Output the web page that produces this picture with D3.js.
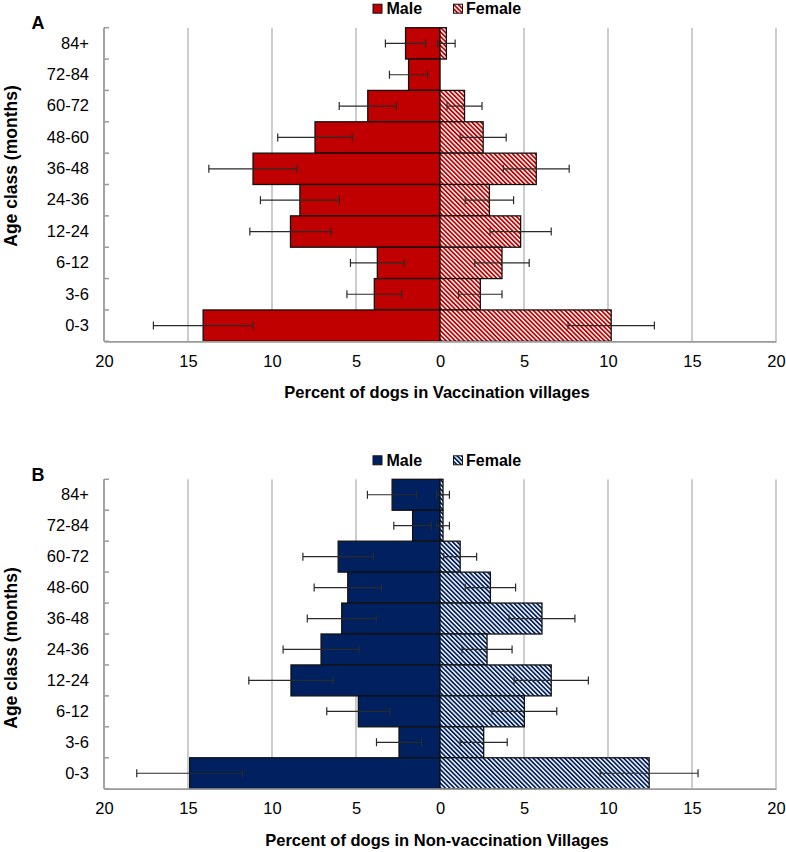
<!DOCTYPE html>
<html><head><meta charset="utf-8">
<script src="https://cdn.jsdelivr.net/npm/d3@7"></script>
<style>
html,body{margin:0;padding:0;background:#fff;}
svg{display:block;font-family:"Liberation Sans",Arial,sans-serif;}
</style></head>
<body>
<svg id="chart" width="786" height="852"></svg>
<script>
// Age classes, top to bottom
const categories = ["84+","72-84","60-72","48-60","36-48","24-36","12-24","6-12","3-6","0-3"];
const xTicks = [-20,-15,-10,-5,0,5,10,15,20];
const seriesNames = ["Male","Female"];

// Panel A: Vaccination villages
const vaccMale      = [2.05, 1.87, 4.30, 7.44, 11.13, 8.34, 8.90, 3.73, 3.91, 14.10];
const vaccMaleErr   = [1.20, 1.14, 1.70, 2.22, 2.63, 2.35, 2.42, 1.60, 1.63, 2.96];
const vaccFemale    = [0.38, 0.00, 1.46, 2.57, 5.73, 2.94, 4.80, 3.69, 2.40, 10.19];
const vaccFemaleErr = [0.52, 0.00, 1.04, 1.37, 1.96, 1.44, 1.82, 1.62, 1.29, 2.57];

// Panel B: Non-vaccination villages
const nonVaccMale      = [2.85, 1.63, 6.06, 5.49, 5.85, 7.08, 8.87, 4.86, 2.44, 14.90];
const nonVaccMaleErr   = [1.47, 1.12, 2.10, 2.00, 2.05, 2.26, 2.51, 1.88, 1.34, 3.15];
const nonVaccFemale    = [0.18, 0.18, 1.20, 3.00, 6.07, 2.80, 6.62, 5.02, 2.60, 12.45];
const nonVaccFemaleErr = [0.38, 0.38, 0.98, 1.50, 1.96, 1.49, 2.21, 1.93, 1.40, 2.91];

const svg = d3.select("#chart");
const defs = svg.append("defs");

function hatch(id, color){
  const p = defs.append("pattern").attr("id", id)
    .attr("patternUnits","userSpaceOnUse").attr("width",3.2).attr("height",10)
    .attr("patternTransform","rotate(-45)");
  p.append("rect").attr("width",3.2).attr("height",10).attr("fill","#fff");
  p.append("rect").attr("width",1.75).attr("height",10).attr("fill",color);
}
hatch("hatchRed","#C00000");
hatch("hatchBlue","#002060");

const x = d3.scaleLinear().domain([-20,20]).range([104,776]);

function panel(cfg){
  const g = svg.append("g");
  const y = d3.scaleBand().domain(categories).range([cfg.top, cfg.bottom]).padding(0);

  // gridlines
  g.append("g").selectAll("line").data(xTicks.filter(d=>d!==-20)).join("line")
    .attr("x1",d=>x(d)).attr("x2",d=>x(d))
    .attr("y1",cfg.top).attr("y2",cfg.bottom)
    .attr("stroke","#ababab").attr("stroke-width",1.2);

  const rows = categories.map((c,i)=>({c, m:cfg.male[i], me:cfg.maleErr[i], f:cfg.female[i], fe:cfg.femaleErr[i]}));

  // male bars
  g.append("g").selectAll("rect").data(rows).join("rect")
    .attr("x",d=>x(-d.m)).attr("width",d=>x(0)-x(-d.m))
    .attr("y",d=>y(d.c)).attr("height",y.bandwidth())
    .attr("fill",cfg.color).attr("stroke","#111").attr("stroke-width",1.3);
  // female bars
  g.append("g").selectAll("rect").data(rows.filter(d=>d.f>0)).join("rect")
    .attr("x",x(0)).attr("width",d=>x(d.f)-x(0))
    .attr("y",d=>y(d.c)).attr("height",y.bandwidth())
    .attr("fill",`url(#${cfg.hatch})`).attr("stroke","#111").attr("stroke-width",1.3);

  // error bars
  const eb = [];
  rows.forEach(d=>{
    if(d.m>0) eb.push({c:d.c, lo:-(d.m+d.me), hi:-(d.m-d.me)});
    if(d.f>0) eb.push({c:d.c, lo:d.f-d.fe, hi:d.f+d.fe});
  });
  const ebg = g.append("g").attr("stroke","#2a2a2a").attr("stroke-width",1.2);
  eb.forEach(e=>{
    const cy = y(e.c)+y.bandwidth()/2;
    ebg.append("line").attr("x1",x(e.lo)).attr("x2",x(e.hi)).attr("y1",cy).attr("y2",cy);
    ebg.append("line").attr("x1",x(e.lo)).attr("x2",x(e.lo)).attr("y1",cy-4).attr("y2",cy+4);
    ebg.append("line").attr("x1",x(e.hi)).attr("x2",x(e.hi)).attr("y1",cy-4).attr("y2",cy+4);
  });

  // y axis
  const yax = g.append("g").attr("transform",`translate(${x(-20)},0)`)
    .call(d3.axisLeft(y).tickSize(0).tickPadding(15));
  yax.select(".domain").remove();
  yax.selectAll("text").attr("font-size",16.5).attr("fill","#000")
    .attr("font-family","Liberation Sans, Arial, sans-serif");
  const bounds = categories.map(c=>y(c)).concat([cfg.bottom]);
  g.append("g").selectAll("line").data(bounds).join("line")
    .attr("x1",x(-20)).attr("x2",x(-20)+5).attr("y1",d=>d).attr("y2",d=>d)
    .attr("stroke","#9a9a9a").attr("stroke-width",1.5);
  g.append("line").attr("x1",x(-20)).attr("x2",x(-20)).attr("y1",cfg.top).attr("y2",cfg.bottom)
    .attr("stroke","#9a9a9a").attr("stroke-width",1.8);

  // x axis
  const xax = g.append("g").attr("transform",`translate(0,${cfg.bottom})`)
    .call(d3.axisBottom(x).tickValues(xTicks).tickSize(0).tickPadding(14).tickFormat(d=>Math.abs(d)));
  xax.select(".domain").attr("stroke","#9a9a9a").attr("stroke-width",1.8);
  xax.selectAll("text").attr("font-size",16.5).attr("fill","#000")
    .attr("font-family","Liberation Sans, Arial, sans-serif");

  // axis titles
  g.append("text").attr("x",437).attr("y",cfg.bottom+57).attr("text-anchor","middle")
    .attr("font-size",16.5).attr("font-weight","bold").text(cfg.xTitle);
  g.append("text").attr("transform",`translate(17,${cfg.yTitleCenter}) rotate(-90)`)
    .attr("text-anchor","middle").attr("font-size",17.5).attr("font-weight","bold")
    .text("Age class (months)");

  // panel letter
  g.append("text").attr("x",31.5).attr("y",cfg.top+1.5).attr("font-size",18).attr("font-weight","bold")
    .text(cfg.letter);

  // legend
  const ly = cfg.top - 23.5;
  const leg = g.append("g");
  leg.append("rect").attr("x",373).attr("y",ly).attr("width",9).attr("height",9)
    .attr("fill",cfg.color).attr("stroke","#111").attr("stroke-width",1);
  leg.append("text").attr("x",386.5).attr("y",ly+10).attr("font-size",16).attr("font-weight","bold").text(seriesNames[0]);
  leg.append("rect").attr("x",453.5).attr("y",ly).attr("width",9).attr("height",9)
    .attr("fill",`url(#${cfg.hatch})`).attr("stroke","#111").attr("stroke-width",1);
  leg.append("text").attr("x",466).attr("y",ly+10).attr("font-size",16).attr("font-weight","bold").text(seriesNames[1]);
}

panel({top:27.7, bottom:341.3, male:vaccMale, maleErr:vaccMaleErr, female:vaccFemale, femaleErr:vaccFemaleErr,
  color:"#C00000", hatch:"hatchRed", letter:"A", xTitle:"Percent of dogs in Vaccination villages", yTitleCenter:166});
panel({top:479.3, bottom:788.7, male:nonVaccMale, maleErr:nonVaccMaleErr, female:nonVaccFemale, femaleErr:nonVaccFemaleErr,
  color:"#002060", hatch:"hatchBlue", letter:"B", xTitle:"Percent of dogs in Non-vaccination Villages", yTitleCenter:648});
</script>
</body></html>
